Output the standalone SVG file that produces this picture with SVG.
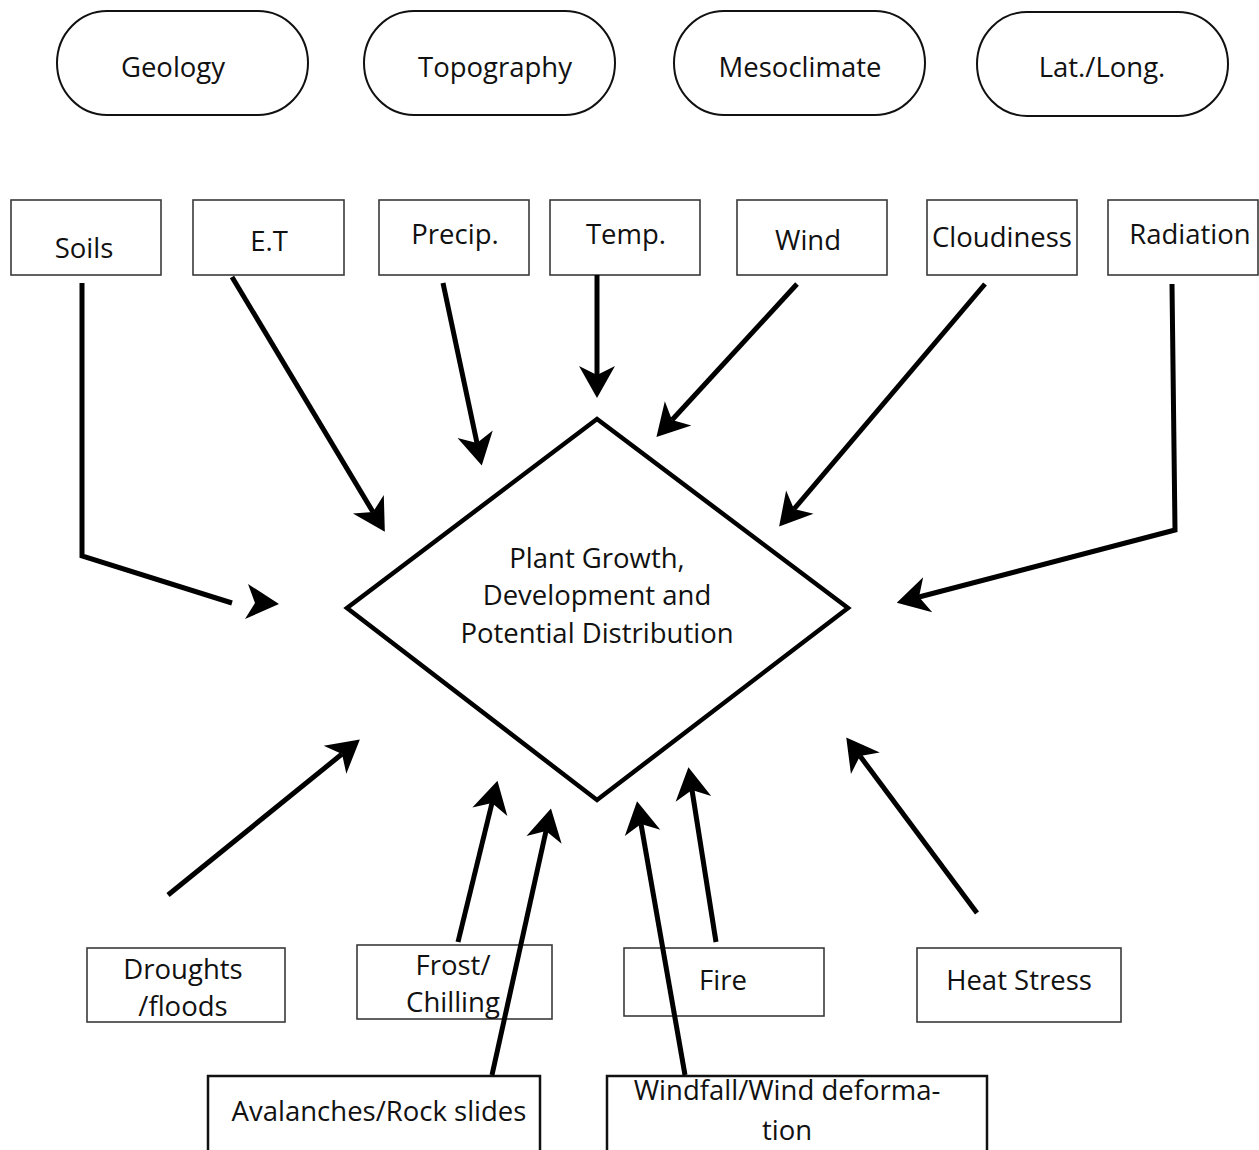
<svg xmlns="http://www.w3.org/2000/svg" width="1259" height="1150" viewBox="0 0 1259 1150">
<style>
text{font-family:"Open Sans","Noto Sans","Liberation Sans",sans-serif;font-size:27.5px;fill:#111;text-anchor:middle}
.pill{fill:#fff;stroke:#111;stroke-width:2}
.box{fill:#fff;stroke:#3a3a3a;stroke-width:1.6}
.box2{fill:#fff;stroke:#111;stroke-width:2.5}
.dia{fill:#fff;stroke:#000;stroke-width:4.5;stroke-linejoin:miter}
.c{fill:none;stroke:#000;stroke-width:5;marker-end:url(#ah)}
.c0{fill:none;stroke:#000;stroke-width:5}
</style>
<defs>
<marker id="ah" markerUnits="userSpaceOnUse" orient="auto" refX="0" refY="0" markerWidth="40" markerHeight="40" overflow="visible">
<path d="M23,0 L-9,-18 L0,0 L-9,18 Z" fill="#000"/>
</marker>
</defs>
<rect width="1259" height="1150" fill="#fff"/>

<g id="geology"><rect class="pill" x="57" y="11" width="251" height="104" rx="50" ry="52"/><text x="173" y="77">Geology</text></g>
<g id="topography"><rect class="pill" x="364" y="11" width="251" height="104" rx="50" ry="52"/><text x="495" y="77">Topography</text></g>
<g id="mesoclimate"><rect class="pill" x="674" y="11" width="251" height="104" rx="50" ry="52"/><text x="800" y="77">Mesoclimate</text></g>
<g id="latlong"><rect class="pill" x="977" y="12" width="251" height="104" rx="50" ry="52"/><text x="1102" y="77">Lat./Long.</text></g>

<g id="soils"><rect class="box" x="11" y="200" width="150" height="75"/><text x="84" y="258">Soils</text></g>
<g id="et"><rect class="box" x="193" y="200" width="151" height="75"/><text x="269" y="251">E.T</text></g>
<g id="precip"><rect class="box" x="379" y="200" width="150" height="75"/><text x="455" y="244">Precip.</text></g>
<g id="temp"><rect class="box" x="550" y="200" width="150" height="75"/><text x="626" y="244">Temp.</text></g>
<g id="wind"><rect class="box" x="737" y="200" width="150" height="75"/><text x="808" y="250">Wind</text></g>
<g id="cloudiness"><rect class="box" x="927" y="200" width="150" height="75"/><text x="1002" y="247">Cloudiness</text></g>
<g id="radiation"><rect class="box" x="1108" y="200" width="150" height="75"/><text x="1190" y="244">Radiation</text></g>

<g id="plant"><path class="dia" d="M597,419 L848,608 L597,800 L347,608 Z"/>
<text x="597" y="568">Plant Growth,</text>
<text x="597" y="605">Development and</text>
<text x="597" y="643">Potential Distribution</text></g>

<g id="droughts"><rect class="box" x="87" y="948" width="198" height="74"/><text x="183" y="979">Droughts</text><text x="183" y="1016">/floods</text></g>
<g id="frost"><rect class="box" x="357" y="945" width="195" height="74"/><text x="453" y="975">Frost/</text><text x="453" y="1012">Chilling</text></g>
<g id="fire"><rect class="box" x="624" y="948" width="200" height="68"/><text x="723" y="990">Fire</text></g>
<g id="heat"><rect class="box" x="917" y="948" width="204" height="74"/><text x="1019" y="990">Heat Stress</text></g>
<g id="avalanches"><rect class="box2" x="208" y="1076" width="332" height="80"/><text x="379" y="1121">Avalanches/Rock slides</text></g>
<g id="windfall"><rect class="box2" x="607" y="1076" width="380" height="80"/><text x="787" y="1100">Windfall/Wind deforma-</text><text x="787" y="1140">tion</text></g>

<g id="connectors">
<path class="c0" d="M82,283 L82,556 L232,603"/>
<path d="M279,604 L248,584 L255,603 L245,619 Z" fill="#000"/>
<path class="c" d="M232,277 L373,512"/>
<path class="c" d="M443,283 L477,443"/>
<path class="c" d="M597,275 L597,375"/>
<path class="c" d="M797,284 L672,420"/>
<path class="c" d="M985,284 L794,509"/>
<path class="c" d="M1172,284 L1175,530 L919,597"/>
<path class="c" d="M168,895 L342,754"/>
<path class="c" d="M458,942 L492,803"/>
<path class="c" d="M492,1075 L546,831"/>
<path class="c" d="M685,1075 L641,824"/>
<path class="c" d="M716,942 L692,790"/>
<path class="c" d="M977,913 L860,756"/>
</g>
</svg>
